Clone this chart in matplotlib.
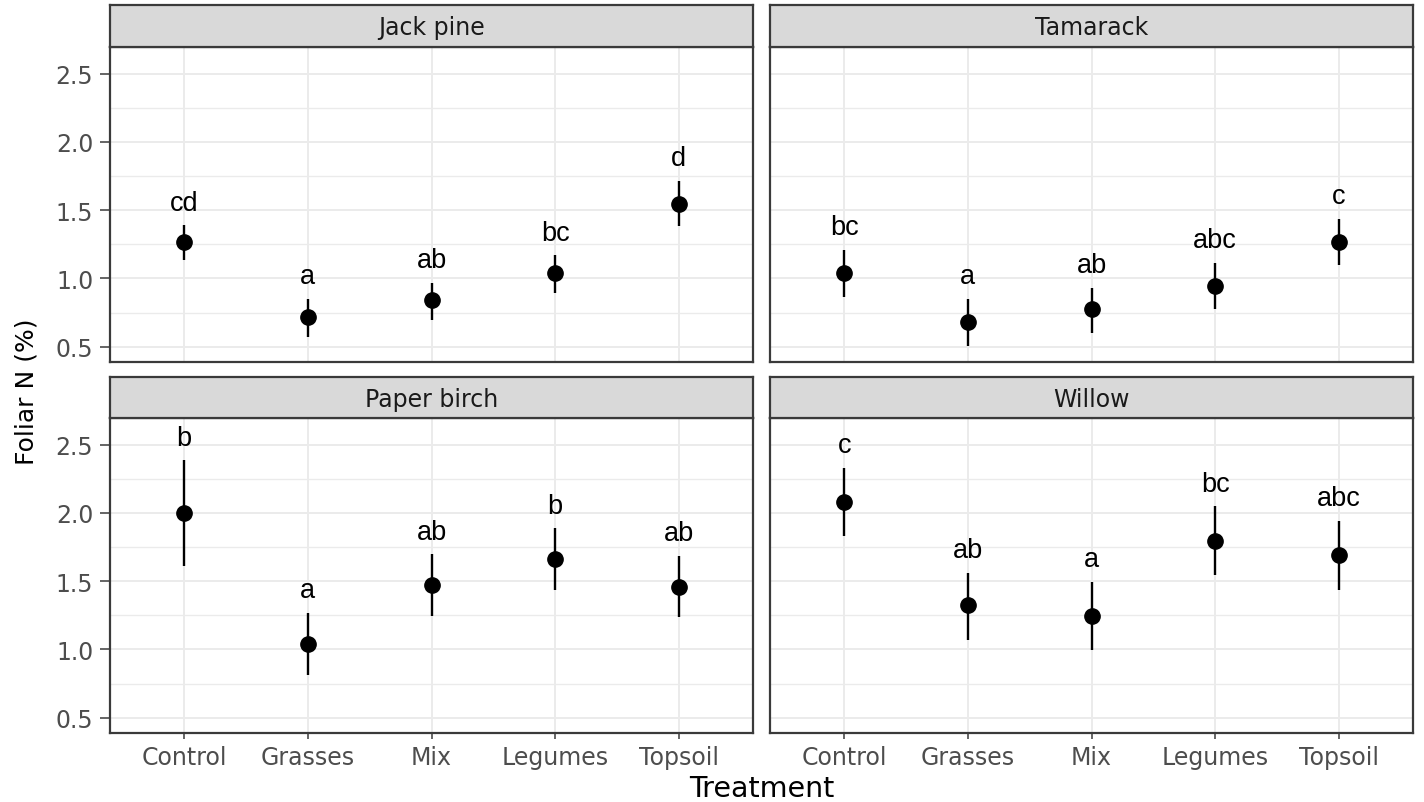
import matplotlib
matplotlib.use("Agg")
import matplotlib.pyplot as plt
from matplotlib.ticker import MultipleLocator, FixedLocator

# ---- data -------------------------------------------------------------
treatments = ["Control", "Grasses", "Mix", "Legumes", "Topsoil"]
species = ["Jack pine", "Tamarack", "Paper birch", "Willow"]

jack_pine_mean = [1.265, 0.719, 0.840, 1.040, 1.545]
jack_pine_lower = [1.137, 0.574, 0.695, 0.897, 1.387]
jack_pine_upper = [1.389, 0.848, 0.967, 1.168, 1.715]
jack_pine_letters = ["cd", "a", "ab", "bc", "d"]

tamarack_mean = [1.040, 0.678, 0.773, 0.945, 1.266]
tamarack_lower = [0.865, 0.508, 0.598, 0.773, 1.095]
tamarack_upper = [1.210, 0.848, 0.931, 1.115, 1.436]
tamarack_letters = ["bc", "a", "ab", "abc", "c"]

paper_birch_mean = [1.997, 1.042, 1.471, 1.661, 1.459]
paper_birch_lower = [1.611, 0.814, 1.248, 1.434, 1.236]
paper_birch_upper = [2.384, 1.268, 1.697, 1.887, 1.685]
paper_birch_letters = ["b", "a", "ab", "b", "ab"]

willow_mean = [2.078, 1.324, 1.243, 1.795, 1.690]
willow_lower = [1.828, 1.071, 0.993, 1.545, 1.434]
willow_upper = [2.331, 1.563, 1.496, 2.049, 1.943]
willow_letters = ["c", "ab", "a", "bc", "abc"]

y_ticks = [0.5, 1.0, 1.5, 2.0, 2.5]
y_tick_labels = ["0.5", "1.0", "1.5", "2.0", "2.5"]

panels = {
    "Jack pine": (jack_pine_mean, jack_pine_lower, jack_pine_upper, jack_pine_letters),
    "Tamarack": (tamarack_mean, tamarack_lower, tamarack_upper, tamarack_letters),
    "Paper birch": (paper_birch_mean, paper_birch_lower, paper_birch_upper, paper_birch_letters),
    "Willow": (willow_mean, willow_lower, willow_upper, willow_letters),
}

# ---- style ------------------------------------------------------------
plt.rcParams["font.family"] = ["DejaVu Sans"]
W, H = 1424, 803
fig = plt.figure(figsize=(W / 100, H / 100), dpi=100)
fig.patch.set_facecolor("white")

BORDER = "#3a3a3a"
GRID = "#EBEBEB"
STRIP_FILL = "#D9D9D9"
TICK_TXT = "#4D4D4D"


def rect(left, top, right, bottom):
    return [left / W, 1 - bottom / H, (right - left) / W, (bottom - top) / H]


cols = [(110, 753), (770, 1413)]
rows = [(6, 48, 363), (378, 419, 734)]
x = list(range(1, len(treatments) + 1))

for i, name in enumerate(species):
    r, c = divmod(i, 2)
    left, right = cols[c]
    s_top, p_top, p_bot = rows[r]

    ax = fig.add_axes(rect(left, p_top, right, p_bot))
    strip = fig.add_axes(rect(left, s_top, right, p_top))

    mean, lower, upper, letters = panels[name]

    ax.set_xlim(0.4, 5.6)
    ax.set_ylim(0.388, 2.695)
    ax.set_axisbelow(True)
    ax.xaxis.set_major_locator(FixedLocator(x))
    ax.yaxis.set_major_locator(FixedLocator(y_ticks))
    ax.yaxis.set_minor_locator(MultipleLocator(0.25))
    ax.grid(which="major", color=GRID, lw=1.4)
    ax.grid(which="minor", axis="y", color=GRID, lw=1.0)
    ax.tick_params(which="minor", length=0)

    ax.vlines(x, lower, upper, color="black", lw=1.7, zorder=3)
    ax.plot(x, mean, "o", ms=11, color="black", zorder=4)
    for xi, up, lab in zip(x, upper, letters):
        ax.text(xi, up + 0.115, lab, ha="center", va="baseline",
                fontsize=19.5, family=["Liberation Sans"], color="black")

    for sp in ax.spines.values():
        sp.set_color(BORDER)
        sp.set_linewidth(1.6)

    if r == 1:
        ax.set_xticklabels(treatments)
        ax.tick_params(axis="x", which="major", length=4.3, width=1.1,
                       color=BORDER, labelsize=17, labelcolor=TICK_TXT, pad=4)
    else:
        ax.tick_params(axis="x", which="major", length=0, labelbottom=False)
    if c == 0:
        ax.set_yticklabels(y_tick_labels)
        ax.tick_params(axis="y", which="major", length=7, width=1.1,
                       color=BORDER, labelsize=17, labelcolor=TICK_TXT, pad=5)
    else:
        ax.tick_params(axis="y", which="major", length=0, labelleft=False)

    strip.set_facecolor(STRIP_FILL)
    strip.set_xticks([])
    strip.set_yticks([])
    for sp in strip.spines.values():
        sp.set_color(BORDER)
        sp.set_linewidth(1.6)
    strip.text(0.5, 0.47, name, ha="center", va="center", fontsize=17,
               color="#1A1A1A", transform=strip.transAxes)

fig.text(761.5 / W, 1 - 797 / H, "Treatment", ha="center", va="baseline",
         fontsize=20.5, color="black")
fig.text(27 / W, 1 - 392 / H, "Foliar N (%)", rotation=90, ha="center",
         va="center", fontsize=18, color="black")

fig.savefig("out.png", dpi=100, facecolor="white")
